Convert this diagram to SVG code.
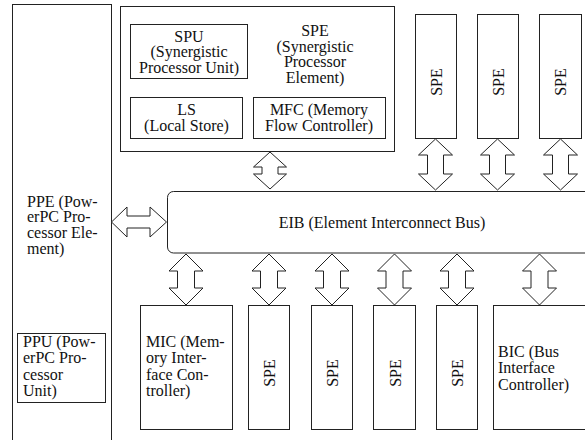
<svg xmlns="http://www.w3.org/2000/svg" width="585" height="440" viewBox="0 0 585 440">
<style>
  .box { fill: #fff; stroke: #222; stroke-width: 1; }
  .arr { fill: #fff; stroke: #222; stroke-width: 1; stroke-linejoin: miter; }
  text { font-family: "Liberation Serif", "DejaVu Serif", serif; font-size: 16px; fill: #111; }
  .c { text-anchor: middle; }
</style>
<rect width="585" height="440" fill="#fff"/>

<g id="ppe">
  <rect class="box" x="12.5" y="4.5" width="99" height="445"/>
  <text x="27" y="206.5">PPE (Pow-</text>
  <text x="27" y="222.3">erPC Pro-</text>
  <text x="27" y="238">cessor Ele-</text>
  <text x="27" y="253.8">ment)</text>
</g>
<g id="ppu">
  <rect class="box" x="17.5" y="333.5" width="88" height="69"/>
  <text x="23" y="346.7">PPU (Pow-</text>
  <text x="23" y="363.2">erPC Pro-</text>
  <text x="23" y="379.7">cessor</text>
  <text x="23" y="396.2">Unit)</text>
</g>

<g id="spe-main">
  <rect class="box" x="120.5" y="6.5" width="274" height="145"/>
  <text class="c" x="315" y="36">SPE</text>
  <text class="c" x="315" y="51.5">(Synergistic</text>
  <text class="c" x="315" y="67">Processor</text>
  <text class="c" x="315" y="82.5">Element)</text>
</g>
<g id="spu">
  <rect class="box" x="130.5" y="24.5" width="117" height="54"/>
  <text class="c" x="189" y="41.5">SPU</text>
  <text class="c" x="189" y="57">(Synergistic</text>
  <text class="c" x="189" y="72.5">Processor Unit)</text>
</g>
<g id="ls">
  <rect class="box" x="130.5" y="97.5" width="112" height="41"/>
  <text class="c" x="186.5" y="115">LS</text>
  <text class="c" x="186.5" y="130.5">(Local Store)</text>
</g>
<g id="mfc">
  <rect class="box" x="253.5" y="97.5" width="132" height="41"/>
  <text class="c" x="319" y="115">MFC (Memory</text>
  <text class="c" x="319" y="130.5">Flow Controller)</text>
</g>

<g id="spe-t1">
  <rect class="box" x="415.5" y="14.5" width="41" height="124"/>
  <text class="c" transform="translate(441.5,82) rotate(-90)">SPE</text>
</g>
<g id="spe-t2">
  <rect class="box" x="477.5" y="14.5" width="41" height="124"/>
  <text class="c" transform="translate(503.5,82) rotate(-90)">SPE</text>
</g>
<g id="spe-t3">
  <rect class="box" x="539.5" y="14.5" width="42" height="124"/>
  <text class="c" transform="translate(566,82) rotate(-90)">SPE</text>
</g>

<g id="eib">
  <rect class="box" x="167.5" y="191.5" width="440" height="61.5" rx="6"/>
  <text class="c" x="382" y="227.5">EIB (Element Interconnect Bus)</text>
</g>

<g id="mic">
  <rect class="box" x="140.5" y="305.5" width="92" height="124"/>
  <text x="146" y="346.7">MIC (Mem-</text>
  <text x="146" y="363.2">ory Inter-</text>
  <text x="146" y="379.7">face Con-</text>
  <text x="146" y="396.2">troller)</text>
</g>
<g id="spe-b1">
  <rect class="box" x="248.5" y="305.5" width="41" height="124"/>
  <text class="c" transform="translate(275,373) rotate(-90)">SPE</text>
</g>
<g id="spe-b2">
  <rect class="box" x="311.5" y="305.5" width="41" height="124"/>
  <text class="c" transform="translate(338,373) rotate(-90)">SPE</text>
</g>
<g id="spe-b3">
  <rect class="box" x="373.5" y="305.5" width="42" height="124"/>
  <text class="c" transform="translate(400.5,373) rotate(-90)">SPE</text>
</g>
<g id="spe-b4">
  <rect class="box" x="436.5" y="305.5" width="41" height="124"/>
  <text class="c" transform="translate(463,373) rotate(-90)">SPE</text>
</g>
<g id="bic">
  <rect class="box" x="493.5" y="305.5" width="100" height="124"/>
  <text x="498" y="356.7">BIC (Bus</text>
  <text x="498" y="373.2">Interface</text>
  <text x="498" y="389.7">Controller)</text>
</g>

<g id="connectors">
  <polygon class="arr" points="270,152 286.5,167 278,167 278,174 286.5,174 270,189 253.5,174 262,174 262,167 253.5,167"/>
  <polygon class="arr" points="435.5,139 452.5,155 443.5,155 443.5,174 452.5,174 435.5,190 418.5,174 427.5,174 427.5,155 418.5,155"/>
  <polygon class="arr" points="497.5,139 514.5,155 505.5,155 505.5,174 514.5,174 497.5,190 480.5,174 489.5,174 489.5,155 480.5,155"/>
  <polygon class="arr" points="560.5,139 577.5,155 568.5,155 568.5,174 577.5,174 560.5,190 543.5,174 552.5,174 552.5,155 543.5,155"/>
  <polygon class="arr" points="111.5,222 127,207 127,216 150,216 150,207 166.5,222 150,237 150,228 127,228 127,237"/>
  <polygon class="arr" points="186,254 203,271 194.5,271 194.5,288 203,288 186,305 169,288 177.5,288 177.5,271 169,271"/>
  <polygon class="arr" points="269,254 286,271 277.5,271 277.5,288 286,288 269,305 252,288 260.5,288 260.5,271 252,271"/>
  <polygon class="arr" points="332,254 349,271 340.5,271 340.5,288 349,288 332,305 315,288 323.5,288 323.5,271 315,271"/>
  <polygon class="arr" points="394.5,254 411.5,271 403,271 403,288 411.5,288 394.5,305 377.5,288 386,288 386,271 377.5,271"/>
  <polygon class="arr" points="457,254 474,271 465.5,271 465.5,288 474,288 457,305 440,288 448.5,288 448.5,271 440,271"/>
  <polygon class="arr" points="539.5,254 556.5,271 548,271 548,288 556.5,288 539.5,305 522.5,288 531,288 531,271 522.5,271"/>
</g>
</svg>
